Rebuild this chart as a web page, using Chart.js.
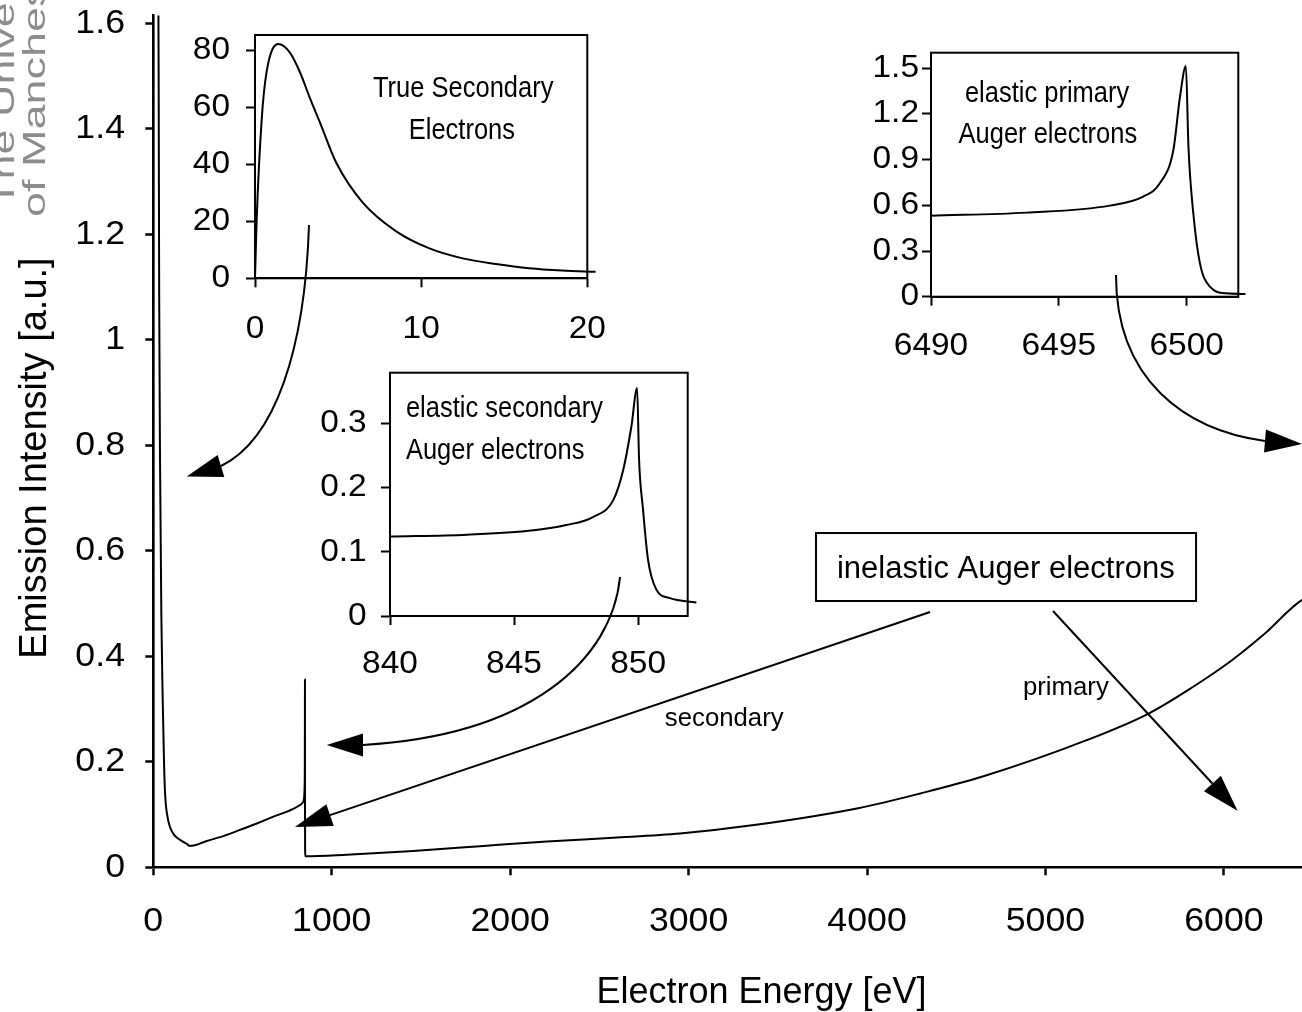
<!DOCTYPE html>
<html lang="en">
<head>
<meta charset="utf-8">
<title>Electron emission spectrum</title>
<script src="https://cdn.jsdelivr.net/npm/chart.js@4.4.1/dist/chart.umd.min.js"></script>
<style>
  html, body { margin: 0; padding: 0; background: #fff; overflow: hidden; }
  #stage { position: relative; width: 1302px; height: 1012px; overflow: hidden; background: #fff; }
  #stage canvas { position: absolute; }
</style>
</head>
<body>
<div id="stage">
  <canvas id="spectrum" width="1302" height="1012" style="left:0;top:0;width:1302px;height:1012px;"></canvas>
  <canvas id="insetTrue" width="480" height="360" style="left:140px;top:0;width:480px;height:360px;"></canvas>
  <canvas id="insetSecondary" width="430" height="360" style="left:290px;top:340px;width:430px;height:360px;"></canvas>
  <canvas id="insetPrimary" width="440" height="340" style="left:830px;top:30px;width:440px;height:340px;"></canvas>
</div>
<script>
const FONT = '"Liberation Sans", Arial, Helvetica, sans-serif';

// ---------------- data ----------------
// True secondary electrons, 0–20 eV
const trueSecondaryEnergy    = [0, 0.1, 0.4, 0.7, 1.4, 2.1, 2.7, 3.3, 3.9, 4.9, 6.5, 8.5, 10.5, 12.5, 14.5, 16.5, 18.5, 20.5];
const trueSecondaryIntensity = [0, 20.5, 55.6, 72.6, 82.3, 79.3, 72.5, 63.4, 54.9, 40.5, 26.5, 16.5, 10.5, 7.0, 5.0, 3.5, 2.7, 2.3];

// Secondary cascade tail and inelastic secondary Auger background, 26–822 eV
const cascadeEnergy    = [26, 30, 33, 38, 45, 52, 60, 66, 80, 95, 120, 150, 180, 190, 200, 215, 300, 400, 486, 580, 673, 760, 822];
const cascadeIntensity = [1.85, 1.5, 1.08, 0.76, 0.48, 0.33, 0.2, 0.14, 0.095, 0.075, 0.06, 0.052, 0.046, 0.044, 0.041, 0.041, 0.05, 0.06, 0.071, 0.083, 0.096, 0.107, 0.118];

// Elastic secondary Auger line near 850 eV
const secondaryAugerEnergy    = [840, 843.1, 845.8, 847.1, 848.2, 849.0, 849.4, 849.73, 849.96, 850.04, 850.2, 850.4, 850.74, 851.28, 852.35];
const secondaryAugerIntensity = [0.124, 0.127, 0.134, 0.142, 0.155, 0.181, 0.228, 0.296, 0.356, 0.244, 0.166, 0.088, 0.041, 0.028, 0.021];

// Inelastic primary Auger background
const inelasticEnergy    = [1084, 1457, 1831, 2205, 2578, 2952, 3367, 3950, 4299, 4648, 5231, 5581, 5813, 6047, 6233, 6439];
const inelasticIntensity = [0.024, 0.031, 0.040, 0.049, 0.056, 0.064, 0.080, 0.112, 0.140, 0.172, 0.241, 0.292, 0.339, 0.393, 0.444, 0.507];

// Elastic primary Auger line near 6500 eV
const primaryAugerEnergy    = [6490, 6493.74, 6497.0, 6498.3, 6498.95, 6499.48, 6499.74, 6499.97, 6500.07, 6500.26, 6500.52, 6500.91, 6501.56, 6502.3];
const primaryAugerIntensity = [0.532, 0.552, 0.598, 0.657, 0.745, 0.963, 1.313, 1.515, 0.985, 0.548, 0.219, 0.066, 0.022, 0.018];

// tick values
const spectrumEnergyTicks     = [0, 1000, 2000, 3000, 4000, 5000, 6000];
const spectrumIntensityTicks  = [0, 0.2, 0.4, 0.6, 0.8, 1, 1.2, 1.4, 1.6];
const trueEnergyTicks         = [0, 10, 20];
const trueIntensityTicks      = [0, 20, 40, 60, 80];
const secAugerEnergyTicks     = [840, 845, 850];
const secAugerIntensityTicks  = [0, 0.1, 0.2, 0.3];
const priAugerEnergyTicks     = [6490, 6495, 6500];
const priAugerIntensityTicks  = [0, 0.3, 0.6, 0.9, 1.2, 1.5];

// annotations, in energy / intensity units of the main spectrum
const curvedArrows = [
  { path: [[872.6, 1.2176], [850.2, 0.9807], [681.9, 0.8101], [379.3, 0.7608]], tip: [187.2, 0.7411] },
  { path: [[2615.6, 0.5503], [2570.8, 0.393], [2111.3, 0.2508], [1175.2, 0.2319]], tip: [971.8, 0.2319] },
  { path: [[5395.3, 1.1229], [5395.3, 0.9238], [5782.1, 0.829], [6230.4, 0.8082]], tip: [6437.8, 0.8025] }
];
const straightArrows = [
  { from: [4353.5, 0.484], tip: [794.1, 0.0764] },
  { from: [5042.3, 0.4859], tip: [6076.4, 0.1073] }
];
const calloutBox = { x0: 3714, x1: 5844, y0: 0.5048, y1: 0.6337, text: 'inelastic Auger electrons', tx: 4778, ty: 0.548 };
const arrowLabels = [
  { text: 'secondary', x: 2867, y: 0.267 },
  { text: 'primary', x: 4874, y: 0.3266 }
];

const toPoints = (xs, ys) => xs.map((x, i) => ({ x, y: ys[i] }));

const spectrumPoints = [
  ...toPoints(trueSecondaryEnergy, trueSecondaryIntensity),
  ...toPoints(cascadeEnergy, cascadeIntensity),
  ...toPoints(secondaryAugerEnergy, secondaryAugerIntensity),
  ...toPoints(inelasticEnergy, inelasticIntensity),
  ...toPoints(primaryAugerEnergy, primaryAugerIntensity)
];

// ---------------- helpers ----------------
function drawText(ctx, text, x, y, o) {
  ctx.save();
  ctx.translate(x, y);
  if (o.rotate) ctx.rotate(o.rotate);
  ctx.scale(o.sx || 1, 1);
  ctx.font = `${o.size}px ${FONT}`;
  ctx.fillStyle = o.color || '#000';
  ctx.textAlign = o.align || 'left';
  ctx.textBaseline = 'alphabetic';
  ctx.fillText(text, 0, 0);
  ctx.restore();
}

function drawHead(ctx, base, tip, halfWidth) {
  const dx = tip.x - base.x, dy = tip.y - base.y;
  const len = Math.hypot(dx, dy) || 1;
  const nx = -dy / len, ny = dx / len;
  ctx.beginPath();
  ctx.moveTo(tip.x, tip.y);
  ctx.lineTo(base.x + nx * halfWidth, base.y + ny * halfWidth);
  ctx.lineTo(base.x - nx * halfWidth, base.y - ny * halfWidth);
  ctx.closePath();
  ctx.fill();
}

// tick labels drawn with a horizontal stretch factor
function stretchedTickLabels(sx) {
  return {
    id: 'stretchedTickLabels',
    beforeDraw(chart) {
      Object.values(chart.scales).forEach(scale => {
        if (scale._stretched) return;
        scale._stretched = true;
        scale.drawLabels = function (chartArea) {
          if (!this.options.ticks.display) return;
          const ctx = this.ctx;
          for (const item of this.getLabelItems(chartArea)) {
            const o = item.options;
            const label = Array.isArray(item.label) ? item.label[0] : item.label;
            ctx.save();
            ctx.translate(o.translation[0], o.translation[1]);
            ctx.scale(sx, 1);
            ctx.font = item.font.string;
            ctx.fillStyle = o.color;
            ctx.textAlign = o.textAlign;
            ctx.textBaseline = o.textBaseline;
            ctx.fillText(label, 0, item.textOffset);
            ctx.restore();
          }
        };
      });
    }
  };
}

function axis(o) {
  return {
    type: 'linear',
    min: o.min,
    max: o.max,
    afterBuildTicks: scale => { scale.ticks = o.ticks.map(v => ({ value: v })); },
    afterFit: scale => {
      if (scale.isHorizontal()) scale.height = o.size; else scale.width = o.size;
      scale.paddingTop = 0; scale.paddingBottom = 0; scale.paddingLeft = 0; scale.paddingRight = 0;
    },
    border: { display: true, color: '#000', width: o.lineWidth },
    grid: { display: true, drawOnChartArea: false, drawTicks: true, tickLength: o.tickLength, tickWidth: o.lineWidth, tickColor: '#000' },
    ticks: {
      color: '#000', padding: o.padding, autoSkip: false, maxRotation: 0, minRotation: 0,
      font: { family: FONT, size: o.fontSize },
      callback: v => String(v)
    }
  };
}

// ---------------- main spectrum ----------------
const spectrumDecor = {
  id: 'spectrumDecor',
  afterDraw(chart) {
    const { ctx } = chart;
    const sx = chart.scales.x, sy = chart.scales.y;
    const P = ([e, v]) => ({ x: sx.getPixelForValue(e), y: sy.getPixelForValue(v) });

    ctx.save();
    ctx.strokeStyle = '#000';
    ctx.fillStyle = '#000';
    ctx.lineWidth = 2;

    curvedArrows.forEach(a => {
      const [p0, p1, p2, p3] = a.path.map(P);
      ctx.beginPath();
      ctx.moveTo(p0.x, p0.y);
      ctx.bezierCurveTo(p1.x, p1.y, p2.x, p2.y, p3.x, p3.y);
      ctx.stroke();
      drawHead(ctx, p3, P(a.tip), 11.5);
    });

    straightArrows.forEach(a => {
      const f = P(a.from), t = P(a.tip);
      const len = Math.hypot(t.x - f.x, t.y - f.y);
      const base = { x: t.x - (t.x - f.x) / len * 37, y: t.y - (t.y - f.y) / len * 37 };
      ctx.beginPath();
      ctx.moveTo(f.x, f.y);
      ctx.lineTo(base.x, base.y);
      ctx.stroke();
      drawHead(ctx, base, t, 11.5);
    });

    const b0 = P([calloutBox.x0, calloutBox.y1]), b1 = P([calloutBox.x1, calloutBox.y0]);
    ctx.strokeRect(b0.x, b0.y, b1.x - b0.x, b1.y - b0.y);
    const bt = P([calloutBox.tx, calloutBox.ty]);
    drawText(ctx, calloutBox.text, bt.x, bt.y, { size: 31, align: 'center' });

    arrowLabels.forEach(l => {
      const p = P([l.x, l.y]);
      drawText(ctx, l.text, p.x, p.y, { size: 26, sx: 0.99 });
    });

    // axis titles
    drawText(ctx, 'Emission Intensity [a.u.]', 46, 458, { size: 38, align: 'center', rotate: -Math.PI / 2 });
    drawText(ctx, 'Electron Energy [eV]', 761.5, 1003, { size: 36, align: 'center' });

    // watermark
    drawText(ctx, 'The University', 14, 207, { size: 31, sx: 1.45, rotate: -Math.PI / 2, color: '#8c8c8c' });
    drawText(ctx, 'of Manchester', 45, 217, { size: 31, sx: 1.45, rotate: -Math.PI / 2, color: '#8c8c8c' });
    ctx.restore();
  }
};

new Chart(document.getElementById('spectrum'), {
  type: 'scatter',
  data: {
    datasets: [{
      data: spectrumPoints, showLine: true, borderColor: '#000', borderWidth: 2,
      pointRadius: 0, cubicInterpolationMode: 'monotone'
    }]
  },
  options: {
    responsive: false, animation: false, events: [], devicePixelRatio: 1,
    layout: { padding: { left: 0, top: 15.4, right: 0, bottom: 0 } },
    plugins: { legend: { display: false }, tooltip: { enabled: false } },
    scales: {
      x: axis({ min: 0, max: 6437.8, ticks: spectrumEnergyTicks, size: 144.7, padding: 25.5, tickLength: 8, fontSize: 34, lineWidth: 2.5 }),
      y: axis({ min: 0, max: 1.615, ticks: spectrumIntensityTicks, size: 153.3, padding: 20.3, tickLength: 8, fontSize: 34, lineWidth: 2.5 })
    }
  },
  plugins: [stretchedTickLabels(1.05), spectrumDecor]
});

// ---------------- insets ----------------
const insetFrame = {
  id: 'insetFrame',
  beforeDatasetsDraw(chart) {
    const { ctx, chartArea: a } = chart;
    ctx.save();
    ctx.strokeStyle = '#000';
    ctx.lineWidth = 2;
    ctx.strokeRect(a.left, a.top, a.right - a.left, a.bottom - a.top);
    ctx.restore();
  }
};

function insetCaptions(lines) {
  return {
    id: 'insetCaptions',
    afterDraw(chart) {
      const sx = chart.scales.x, sy = chart.scales.y;
      lines.forEach(l => {
        drawText(chart.ctx, l.text, sx.getPixelForValue(l.x), sy.getPixelForValue(l.y), { size: 30, sx: 0.85, align: l.align });
      });
    }
  };
}

function makeInset(id, c) {
  return new Chart(document.getElementById(id), {
    type: 'scatter',
    data: {
      datasets: [{
        data: c.points, showLine: true, borderColor: '#000', borderWidth: 2,
        pointRadius: 0, clip: false, cubicInterpolationMode: 'monotone'
      }]
    },
    options: {
      responsive: false, animation: false, events: [], devicePixelRatio: 1,
      layout: { padding: { left: 0, top: c.padTop, right: c.padRight, bottom: 0 } },
      plugins: { legend: { display: false }, tooltip: { enabled: false } },
      scales: {
        x: axis({ min: c.xMin, max: c.xMax, ticks: c.xTicks, size: c.xSize, padding: c.xPad, tickLength: 9, fontSize: 31, lineWidth: 2 }),
        y: axis({ min: c.yMin, max: c.yMax, ticks: c.yTicks, size: c.ySize, padding: c.yPad, tickLength: 9, fontSize: 31, lineWidth: 2 })
      }
    },
    plugins: [stretchedTickLabels(1.08), insetFrame, insetCaptions(c.captions)]
  });
}

makeInset('insetTrue', {
  points: toPoints(trueSecondaryEnergy, trueSecondaryIntensity),
  xMin: 0, xMax: 20, xTicks: trueEnergyTicks, xSize: 81.7, xPad: 24,
  yMin: 0, yMax: 85.5, yTicks: trueIntensityTicks, ySize: 115, yPad: 16,
  padTop: 35, padRight: 32.7,
  captions: [
    { text: 'True Secondary', x: 12.53, y: 63.7, align: 'center' },
    { text: 'Electrons', x: 12.45, y: 49.0, align: 'center' }
  ]
});

makeInset('insetSecondary', {
  points: toPoints(secondaryAugerEnergy, secondaryAugerIntensity),
  xMin: 840, xMax: 852, xTicks: secAugerEnergyTicks, xSize: 84, xPad: 21,
  yMin: 0, yMax: 0.38, yTicks: secAugerIntensityTicks, ySize: 100, yPad: 14.3,
  padTop: 32.7, padRight: 32.3,
  captions: [
    { text: 'elastic secondary', x: 840.64, y: 0.311, align: 'left' },
    { text: 'Auger electrons', x: 840.64, y: 0.245, align: 'left' }
  ]
});

makeInset('insetPrimary', {
  points: toPoints(primaryAugerEnergy, primaryAugerIntensity),
  xMin: 6490, xMax: 6502.02, xTicks: priAugerEnergyTicks, xSize: 73.3, xPad: 22,
  yMin: 0, yMax: 1.602, yTicks: priAugerIntensityTicks, ySize: 101, yPad: 3,
  padTop: 22.7, padRight: 31.7,
  captions: [
    { text: 'elastic primary', x: 6494.54, y: 1.28, align: 'center' },
    { text: 'Auger electrons', x: 6494.57, y: 1.007, align: 'center' }
  ]
});
</script>
</body>
</html>
